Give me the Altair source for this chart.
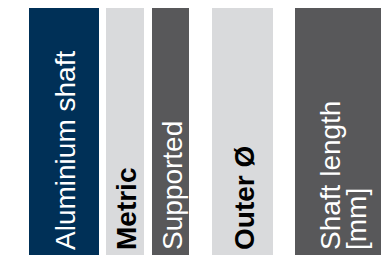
import altair as alt
import pandas as pd

# Column header cells of a product table
labels = ["Aluminium shaft", "Metric", "Supported", "Outer Ø", "Shaft length\n[mm]"]
kinds = ["product", "filter", "feature", "filter", "feature"]
col_start = [21, 98, 144, 204, 287]
col_end = [91, 136, 181, 265, 373]

df = pd.DataFrame({"label": labels, "kind": kinds, "start": col_start, "end": col_end})

kind_domain = ["product", "filter", "feature"]
fill_colors = ["#003057", "#d9dadc", "#58585a"]
text_colors = ["#ffffff", "#000000", "#ffffff"]

W, H = 373, 247
xscale = alt.Scale(domain=[0, W], nice=False, zero=False)

base = alt.Chart(df)

cols = base.mark_rect().encode(
    x=alt.X("start:Q", scale=xscale, axis=None),
    x2="end:Q",
    color=alt.Color("kind:N", scale=alt.Scale(domain=kind_domain, range=fill_colors), legend=None),
)

text_base = base.transform_calculate(
    mid="(datum.start + datum.end) / 2",
    multi="indexof(datum.label, '\\n') >= 0",
)


def text_layer(weight, pred, dy):
    return text_base.transform_filter(pred).mark_text(
        angle=270, align="left", baseline="middle", font="Liberation Sans",
        fontSize=28, fontWeight=weight, lineBreak="\n", lineHeight=26, dx=5, dy=dy,
    ).encode(
        x=alt.X("mid:Q", scale=xscale, axis=None),
        y=alt.value("height"),
        text="label:N",
        fill=alt.Fill("kind:N", scale=alt.Scale(domain=kind_domain, range=text_colors), legend=None),
    )


bold = text_layer("bold", "datum.kind === 'filter'", 3)
normal = text_layer("normal", "datum.kind !== 'filter' && !datum.multi", 3)
multi = text_layer("normal", "datum.multi", -6)

chart = alt.layer(cols, normal, bold, multi).properties(
    width=W, height=H, autosize=alt.AutoSizeParams(type="none"), padding=0,
).configure_view(stroke=None)

chart.save("out.html", embed_options={"renderer": "svg", "actions": False})
